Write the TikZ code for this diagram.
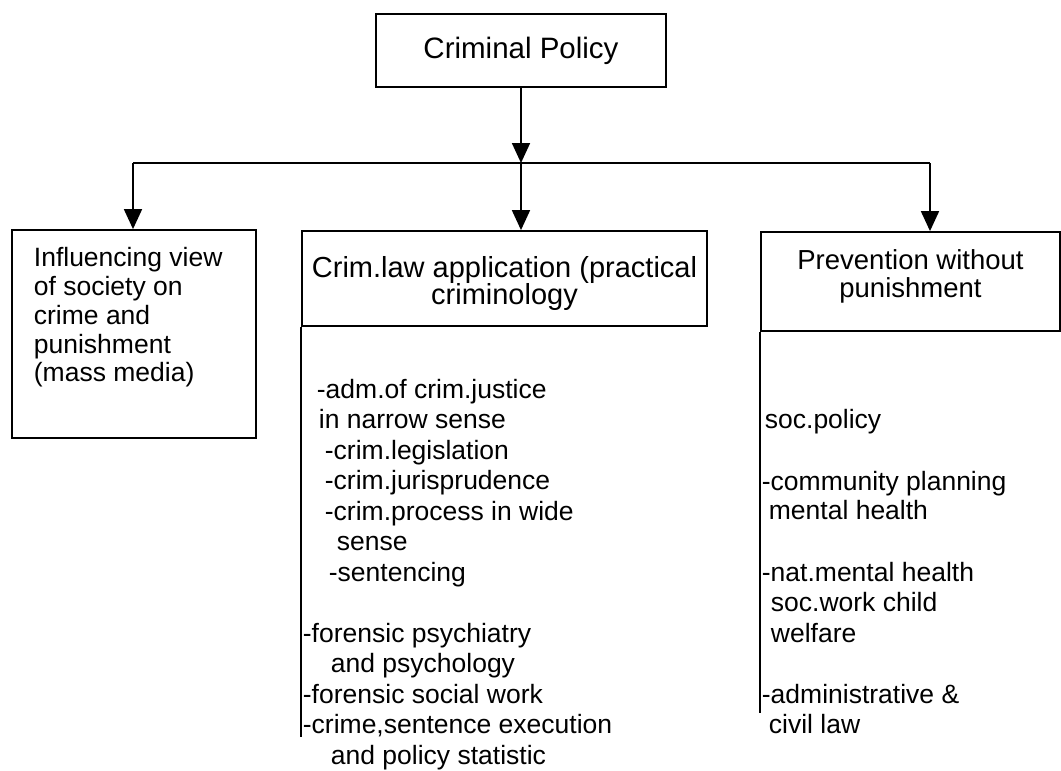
\documentclass[tikz,border=0pt]{standalone}
\usepackage{fontspec}
\setmainfont{Liberation Sans}
\usetikzlibrary{arrows.meta}
\begin{document}
\begin{tikzpicture}[x=1pt,y=-1pt,line width=1.8pt,
  box/.style={draw,line width=1.8pt,inner sep=0pt,align=center},
  txt/.style={font=\fontsize{26.5}{30.5}\selectfont,inner sep=0pt,anchor=base west},
  arr/.style={-{Triangle[width=18pt,length=20pt]}}]
\useasboundingbox (0,0) rectangle (1061,771);
% boxes
\node[box,minimum width=290pt,minimum height=73pt,font=\fontsize{29.5}{32}\selectfont] (top) at (521,50.5) {Criminal Policy\rule[-6pt]{0pt}{6pt}};
\node[box,minimum width=244pt,minimum height=208pt] (infl) at (134,334) {};
\node[txt,anchor=north west,align=left,font=\fontsize{26.5}{28.8}\selectfont] (infltxt) at (33,246.5) {Influencing view\\of society on\\crime and\\punishment\\(mass media)};
\node[box,minimum width=405pt,minimum height=95pt,font=\fontsize{29}{27.5}\selectfont] (crim) at (504.5,278.5) {\rule{0pt}{31pt}Crim.law application (practical\\criminology};
\node[box,minimum width=299pt,minimum height=99pt,font=\fontsize{27.5}{27.5}\selectfont] (prev) at (910.5,281.5) {Prevention without\\punishment\rule[-16pt]{0pt}{16pt}};
% connectors
\coordinate (j1) at (133,163);
\coordinate (j2) at (521,163);
\coordinate (j3) at (930,163);
\draw[arr] (top.south) -- (j2);
\draw (j1) -- (j3);
\draw[arr] (j1) -- (j1 |- infl.north);
\draw[arr] (j2) -- (j2 |- crim.north);
\draw[arr] (j3) -- (j3 |- prev.north);
\coordinate (mend) at (302,737);
\coordinate (rend) at (761,713);
\draw (crim.south west) -- (crim.south west |- mend);
\draw (prev.south west) -- (prev.south west |- rend);
% middle list
\node[txt] (m1) at (316,398) {-adm.of crim.justice};
\node[txt] (m2) at (318,428.5) {in narrow sense};
\node[txt] (m3) at (324,459) {-crim.legislation};
\node[txt] (m4) at (324,489.5) {-crim.jurisprudence};
\node[txt] (m5) at (324,520) {-crim.process in wide};
\node[txt] (m6) at (336,550.5) {sense};
\node[txt] (m7) at (328,581) {-sentencing};
\node[txt] (m8) at (302,642) {-forensic psychiatry};
\node[txt] (m9) at (330,672.5) {and psychology};
\node[txt] (m10) at (302,703) {-forensic social work};
\node[txt] (m11) at (302,733.5) {-crime,sentence execution};
\node[txt] (m12) at (330,764) {and policy statistic};
% right list
\node[txt] (r1) at (764,428) {soc.policy};
\node[txt] (r2) at (761,490) {-community planning};
\node[txt] (r3) at (768,519) {mental health};
\node[txt] (r4) at (761,581) {-nat.mental health};
\node[txt] (r5) at (770,611) {soc.work child};
\node[txt] (r6) at (770,642) {welfare};
\node[txt] (r7) at (761,703) {-administrative \&};
\node[txt] (r8) at (768,733) {civil law};
\end{tikzpicture}
\end{document}
